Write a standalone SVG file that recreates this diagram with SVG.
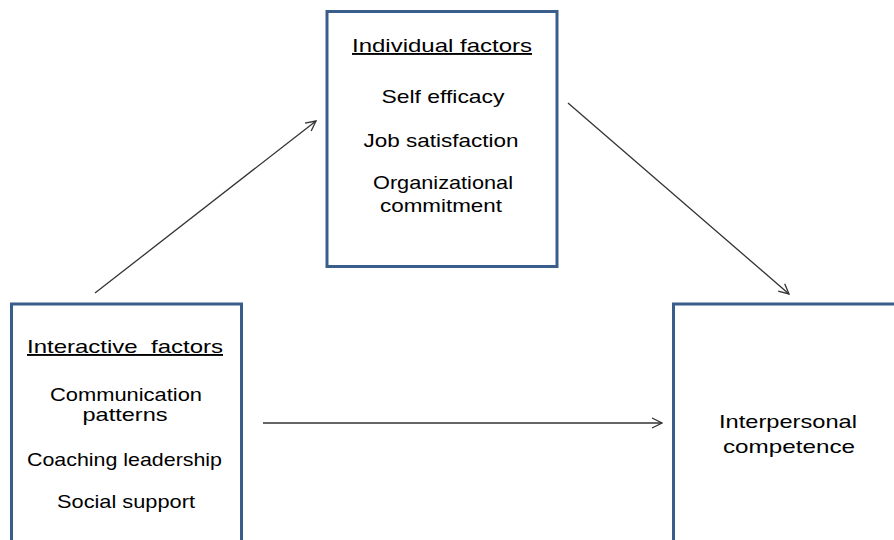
<svg xmlns="http://www.w3.org/2000/svg" width="894" height="540" viewBox="0 0 894 540">
<style>
.box{fill:#fff;stroke:#3A5E8C;stroke-width:3}
.t{font-family:"Liberation Sans",Arial,sans-serif;font-size:19px;fill:#000;text-anchor:middle}
.u{text-decoration:underline}
.c{stroke:#333;stroke-width:1.3;fill:none}
</style>
<defs>
<marker id="ah" viewBox="0 0 12 12" refX="11" refY="6" markerWidth="12" markerHeight="12" markerUnits="userSpaceOnUse" orient="auto">
<path d="M1,1 L11,6 L1,11" fill="none" stroke="#333" stroke-width="1.3"/>
</marker>
</defs>
<rect width="894" height="540" fill="#fff"/>
<g id="individual">
<rect class="box" x="327" y="11.5" width="230" height="255"/>
<text class="t u" x="442" y="52" textLength="180" lengthAdjust="spacingAndGlyphs">Individual factors</text>
<text class="t" x="443" y="103" textLength="123" lengthAdjust="spacingAndGlyphs">Self efficacy</text>
<text class="t" x="441" y="147" textLength="155" lengthAdjust="spacingAndGlyphs">Job satisfaction</text>
<text class="t" x="443" y="189" textLength="140" lengthAdjust="spacingAndGlyphs">Organizational</text>
<text class="t" x="441" y="212" textLength="122" lengthAdjust="spacingAndGlyphs">commitment</text>
</g>
<g id="interactive">
<rect class="box" x="11.5" y="304" width="230" height="260"/>
<text class="t u" x="125" y="353" textLength="196" lengthAdjust="spacingAndGlyphs" xml:space="preserve">Interactive  factors</text>
<text class="t" x="126" y="401" textLength="152" lengthAdjust="spacingAndGlyphs">Communication</text>
<text class="t" x="125" y="421" textLength="85" lengthAdjust="spacingAndGlyphs">patterns</text>
<text class="t" x="124.5" y="466" textLength="195" lengthAdjust="spacingAndGlyphs">Coaching leadership</text>
<text class="t" x="126" y="508" textLength="138" lengthAdjust="spacingAndGlyphs">Social support</text>
</g>
<g id="interpersonal">
<rect class="box" x="673.5" y="304" width="240" height="260"/>
<text class="t" x="788" y="428" textLength="138" lengthAdjust="spacingAndGlyphs">Interpersonal</text>
<text class="t" x="789" y="453" textLength="132" lengthAdjust="spacingAndGlyphs">competence</text>
</g>
<g id="connectors">
<line class="c" x1="95" y1="293" x2="316" y2="121" marker-end="url(#ah)"/>
<line class="c" x1="568" y1="103" x2="789" y2="294" marker-end="url(#ah)"/>
<line class="c" x1="263" y1="423" x2="662" y2="423" marker-end="url(#ah)"/>
</g>
</svg>
